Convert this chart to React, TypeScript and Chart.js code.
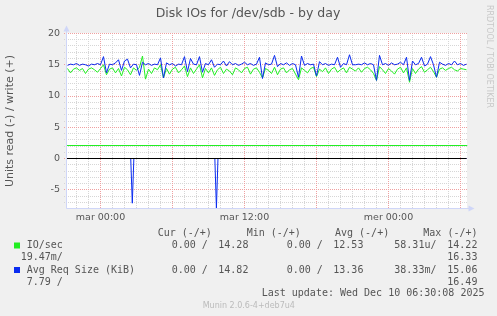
import React, { useEffect, useRef } from 'react';
import { Chart, registerables } from 'chart.js';

Chart.register(...registerables);

// ---- data ----
const startHour = -2.75; // hours relative to "mar 00:00"
const stepHours = 0.25;

const avgReqWrite = [
  14.9, 15.1, 15.0, 15.2, 14.9, 15.1, 15.0, 14.8, 15.1, 15.0, 15.2, 15.0,
  16.3, 13.7, 15.1, 15.0, 15.3, 15.8, 14.1, 15.6, 15.9, 14.5, 15.1, 15.0,
  13.3, 15.4, 15.0, 15.2, 14.9, 15.1, 15.0, 16.1, 12.9, 15.3, 15.0, 15.2,
  14.8, 15.1, 15.0, 16.3, 13.9, 16.0, 15.1, 15.0, 16.3, 13.8, 15.2, 15.0,
  15.8, 14.6, 15.1, 15.0, 15.6, 14.8, 15.5, 15.0, 15.2, 14.9, 15.1, 15.4,
  15.0, 15.2, 14.9, 15.1, 16.2, 12.8, 15.3, 15.0, 15.1, 16.5, 14.7, 15.2,
  15.0, 15.3, 14.9, 15.2, 15.0, 13.0, 16.4, 14.9, 15.2, 15.0, 15.1, 13.2,
  15.5, 15.0, 15.2, 14.9, 15.1, 15.0, 16.2, 14.6, 15.2, 15.0, 16.6, 15.0,
  15.0, 15.1, 15.0, 15.3, 15.0, 15.2, 15.0, 12.5, 16.5, 15.0, 15.2, 14.9,
  15.3, 15.0, 15.1, 15.4, 15.0, 16.2, 12.5, 15.6, 15.0, 15.2, 16.2, 14.8,
  15.1, 16.3, 15.0, 13.0, 15.4, 15.1, 14.9, 15.2, 15.0, 15.6, 15.0, 15.2,
  14.9, 15.1,
];

const ioWrite = [
  14.4, 13.7, 14.3, 14.5, 14.1, 14.4, 13.6, 14.3, 14.5, 14.2, 13.8, 14.4,
  15.0, 13.4, 14.3, 14.5, 13.7, 14.4, 13.2, 14.6, 14.2, 13.4, 14.5, 14.1,
  14.6, 16.4, 12.7, 14.3, 13.6, 14.5, 14.2, 15.0, 12.9, 14.4, 13.5, 14.3,
  14.6, 13.7, 14.2, 14.8, 13.1, 14.5, 13.6, 14.3, 15.0, 12.9, 14.4, 13.7,
  14.5, 13.3, 14.2, 14.6, 13.6, 14.3, 14.0, 13.4, 14.5, 14.2, 13.7, 14.4,
  14.6, 13.5, 14.3, 14.5, 13.8, 12.9, 14.4, 14.1, 13.6, 14.6, 13.4, 14.3,
  14.5, 13.7, 14.2, 14.4, 13.5, 12.6, 14.5, 14.1, 13.7, 14.4, 14.6, 13.1,
  14.3, 13.9, 14.5, 13.6, 14.3, 14.6, 13.8, 14.2, 14.5, 13.7, 14.6, 14.3,
  14.0, 14.5, 13.8, 14.4, 14.6, 14.2, 13.6, 12.5, 14.7, 14.2, 13.6, 14.4,
  14.0, 13.5, 14.3, 14.6, 13.7, 14.5, 12.2, 14.4, 13.6, 14.3, 14.7, 13.8,
  14.2, 14.6, 13.9, 13.0, 14.3, 14.5, 14.1, 14.4, 14.6, 14.2, 14.0, 14.4,
  14.3, 14.2,
];

// read side (plotted negative)
const avgReqReadHours = [-2.75, 2.52, 2.65, 2.78, 9.53, 9.66, 9.79, 30.5];
const avgReqReadValues = [0, 0, -7.15, 0, 0, -7.95, 0, 0];
const ioReadHours = [-2.833, 30.583];
const ioReadValues = [2.08, 2.08];
const zeroHours = [-2.833, 30.5];
const zeroValues = [0, 0];

const xMin = -2.833;
const xMax = 30.583;
const yMin = -8;
const yMax = 20;
const xLabelHours = [0, 12, 24];
const xLabelTexts = ['mar 00:00', 'mar 12:00', 'mer 00:00'];
const yLabelValues = [-5, 0, 5, 10, 15, 20];

const legendHeaders = ['Cur (-/+)', 'Min (-/+)', 'Avg (-/+)', 'Max (-/+)'];
const seriesNames = ['IO/sec', 'Avg Req Size (KiB)'];
const seriesColors = ['#22ee22', '#0a2cf0'];
const curVals = [['0.00 /', '14.28'], ['0.00 /', '14.82']];
const minVals = [['0.00 /', '12.53'], ['0.00 /', '13.36']];
const avgVals = [['58.31u/', '14.22'], ['38.33m/', '15.06']];
const maxWrap = [['19.47m/', '16.33'], ['7.79 /', '16.49']];
const lastUpdate = 'Last update: Wed Dec 10 06:30:08 2025';
const versionText = 'Munin 2.0.6-4+deb7u4';
const titleText = 'Disk IOs for /dev/sdb - by day';
const yTitleText = 'Units read (-) / write (+)';
const watermark = 'RRDTOOL / TOBI OETIKER';

const MONO = '"DejaVu Sans Mono", monospace';
const SANS = '"DejaVu Sans", sans-serif';

const xy = (xs: number[], ys: number[]) => xs.map((x, i) => ({ x, y: ys[i] }));
const writeHours = avgReqWrite.map((_, i) => startHour + i * stepHours);

const MINOR = '#d6d6d6';
const MAJOR = '#efa0a0';

const decorPlugin = {
  id: 'muninDecor',
  beforeDraw(chart: any) {
    const { ctx, chartArea: a } = chart;
    ctx.save();
    ctx.fillStyle = '#f0f0f0';
    ctx.fillRect(0, 0, chart.width, chart.height);
    ctx.fillStyle = '#ffffff';
    ctx.fillRect(Math.floor(a.left), Math.floor(a.top), Math.ceil(a.right - a.left), Math.ceil(a.bottom - a.top));
    ctx.restore();
  },
  beforeDatasetsDraw(chart: any) {
    const { ctx, chartArea: a, scales } = chart;
    const xs = scales.x;
    const ys = scales.y;
    ctx.save();
    ctx.lineWidth = 1;
    ctx.setLineDash([1, 1]);
    const top = Math.floor(a.top);
    const bottom = Math.floor(a.bottom);
    const left = Math.floor(a.left);
    const right = Math.floor(a.right);
    for (const pass of [0, 1]) {
      for (let h = Math.ceil(xMin); h <= Math.floor(xMax); h++) {
        const major = h % 6 === 0;
        if ((pass === 1) !== major) continue;
        const px = Math.floor(xs.getPixelForValue(h)) + 0.5;
        ctx.strokeStyle = major ? MAJOR : MINOR;
        ctx.beginPath();
        ctx.moveTo(px, top);
        ctx.lineTo(px, bottom);
        ctx.stroke();
      }
      for (let v = yMin + 1; v <= yMax; v++) {
        const major = v % 5 === 0;
        if ((pass === 1) !== major) continue;
        const py = Math.floor(ys.getPixelForValue(v)) + 0.5;
        ctx.strokeStyle = major ? MAJOR : MINOR;
        ctx.beginPath();
        ctx.moveTo(left - 2, py);
        ctx.lineTo(right, py);
        ctx.stroke();
      }
    }
    ctx.restore();
  },
  afterDraw(chart: any) {
    const { ctx, chartArea: a } = chart;
    ctx.save();
    // axes + arrows
    const axisColor = '#cfd6f8';
    ctx.strokeStyle = axisColor;
    ctx.fillStyle = axisColor;
    ctx.lineWidth = 1;
    const ax = Math.floor(a.left) + 0.5;
    const ay = Math.floor(a.bottom) + 0.5;
    ctx.beginPath();
    ctx.moveTo(ax, ay);
    ctx.lineTo(ax, a.top - 4);
    ctx.moveTo(ax, ay);
    ctx.lineTo(a.right + 2, ay);
    ctx.stroke();
    ctx.beginPath();
    ctx.moveTo(ax, a.top - 8);
    ctx.lineTo(ax - 3, a.top - 2);
    ctx.lineTo(ax + 3, a.top - 2);
    ctx.closePath();
    ctx.fill();
    ctx.beginPath();
    ctx.moveTo(a.right + 7, ay);
    ctx.lineTo(a.right + 1, ay - 3);
    ctx.lineTo(a.right + 1, ay + 3);
    ctx.closePath();
    ctx.fill();

    // title
    ctx.fillStyle = '#555';
    ctx.font = `12.5px ${SANS}`;
    ctx.textAlign = 'center';
    ctx.textBaseline = 'middle';
    ctx.fillText(titleText, 248, 13.5);

    // watermark
    ctx.save();
    ctx.translate(489, 5);
    ctx.rotate(Math.PI / 2);
    ctx.fillStyle = '#c8c8c8';
    ctx.font = `8px ${SANS}`;
    ctx.textAlign = 'left';
    ctx.textBaseline = 'middle';
    ctx.fillText(watermark, 0, 0);
    ctx.restore();

    // legend table
    ctx.font = `10px ${MONO}`;
    ctx.fillStyle = '#555';
    ctx.textAlign = 'left';
    ctx.textBaseline = 'middle';
    const hx = [157.7, 246.7, 335, 423.3];
    legendHeaders.forEach((h, i) => ctx.fillText(h, hx[i], 233.5));
    const rowY = [245.5, 270];
    seriesNames.forEach((name, r) => {
      const y = rowY[r];
      ctx.fillStyle = seriesColors[r];
      ctx.fillRect(14, y - 3, 6, 6);
      ctx.fillStyle = '#555';
      ctx.fillText(name, 26.7, y);
      ctx.fillText(curVals[r][0], 171.7, y);
      ctx.fillText(curVals[r][1], 218.3, y);
      ctx.fillText(minVals[r][0], 286.7, y);
      ctx.fillText(minVals[r][1], 333.3, y);
      ctx.fillText(avgVals[r][0], 394.3, y);
      ctx.fillText(avgVals[r][1], 447.3, y);
      ctx.fillText(maxWrap[r][0], r === 0 ? 20.7 : 26.7, y + 12);
      ctx.fillText(maxWrap[r][1], 447.3, y + 12);
    });
    ctx.fillText(lastUpdate, 261.7, 293.5);
    ctx.font = `8px ${SANS}`;
    ctx.fillStyle = '#bbbbbb';
    ctx.fillText(versionText, 202.7, 306);
    ctx.restore();
  },
};

export default function App() {
  const ref = useRef<HTMLCanvasElement | null>(null);
  useEffect(() => {
    if (!ref.current) return;
    const chart = new Chart(ref.current, {
      type: 'line',
      data: {
        datasets: [
          {
            label: 'zero',
            data: xy(zeroHours, zeroValues),
            borderColor: '#000000',
            borderWidth: 1,
            pointRadius: 0,
          },
          {
            label: 'Avg Req Size (KiB) write',
            data: xy(writeHours, avgReqWrite),
            borderColor: seriesColors[1],
            borderWidth: 1,
            pointRadius: 0,
          },
          {
            label: 'IO/sec write',
            data: xy(writeHours, ioWrite),
            borderColor: seriesColors[0],
            borderWidth: 1,
            pointRadius: 0,
          },
          {
            label: 'Avg Req Size (KiB) read',
            data: xy(avgReqReadHours, avgReqReadValues),
            borderColor: seriesColors[1],
            borderWidth: 1,
            pointRadius: 0,
          },
          {
            label: 'IO/sec read',
            data: xy(ioReadHours, ioReadValues),
            borderColor: seriesColors[0],
            borderWidth: 1,
            pointRadius: 0,
          },
        ],
      },
      options: {
        responsive: false,
        animation: false,
        events: [],
        layout: { padding: { top: 33.5, right: 29.5, bottom: 87.5, left: 0 } },
        plugins: { legend: { display: false }, tooltip: { enabled: false }, title: { display: false } },
        elements: { line: { tension: 0 } },
        scales: {
          x: {
            type: 'linear',
            min: xMin,
            max: xMax,
            afterFit: (s: any) => { s.height = 20; },
            afterBuildTicks: (s: any) => {
              s.ticks = xLabelHours.map((h) => ({ value: h }));
            },
            border: { display: false },
            grid: { display: false, drawTicks: false },
            ticks: {
              autoSkip: false,
              maxRotation: 0,
              padding: 3,
              color: '#555',
              font: { family: SANS, size: 9.5 },
              callback: (v: any) => {
                const i = xLabelHours.indexOf(Number(v));
                return i >= 0 ? xLabelTexts[i] : '';
              },
            },
          },
          y: {
            type: 'linear',
            min: yMin,
            max: yMax,
            afterFit: (s: any) => { s.width = 66.5; },
            afterBuildTicks: (s: any) => {
              s.ticks = yLabelValues.map((v) => ({ value: v }));
            },
            border: { display: false },
            grid: { display: false, drawTicks: false },
            title: {
              display: true,
              text: yTitleText,
              color: '#555',
              font: { family: SANS, size: 11 },
              padding: { top: 3.4, bottom: 0 },
            },
            ticks: {
              autoSkip: false,
              padding: 6.5,
              color: '#555',
              font: { family: SANS, size: 9.5 },
              callback: (v: any) => String(v),
            },
          },
        },
      },
      plugins: [decorPlugin],
    });
    return () => chart.destroy();
  }, []);
  return (
    <div style={{ position: 'fixed', left: 0, top: 0, width: 497, height: 316, background: '#f0f0f0' }}>
      <canvas ref={ref} width={497} height={316} style={{ display: 'block', width: 497, height: 316 }} />
    </div>
  );
}
